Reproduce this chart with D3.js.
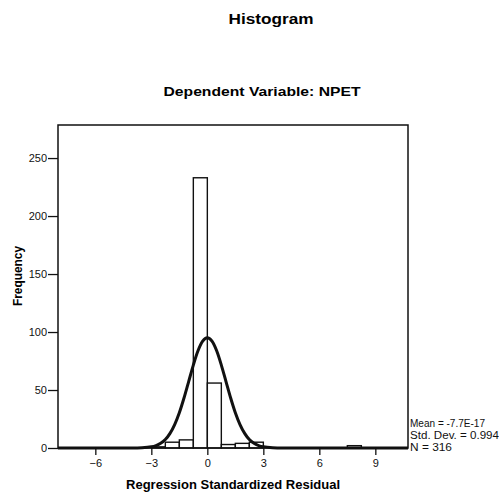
<!DOCTYPE html>
<html>
<head>
<meta charset="utf-8">
<script src="https://cdn.jsdelivr.net/npm/d3@7"></script>
<style>
  body { margin: 0; background: #fff; }
  svg { display: block; font-family: "Liberation Sans", Arial, sans-serif; }
</style>
</head>
<body>
<div id="chart"></div>
<script>
// histogram bins (lower / upper edge) and their counts
var binLo = [-3, -2.25, -1.5, -0.75, 0, 0.75, 1.5, 2.25, 7.5];
var binHi = [-2.25, -1.5, -0.75, 0, 0.75, 1.5, 2.25, 3, 8.25];
var counts = [1, 5, 7, 233, 56, 3, 4, 5, 2];

// normal curve
var curveX = [-8, -4, -3.5, -3, -2.75, -2.5, -2.25, -2, -1.75, -1.5, -1.25, -1, -0.75, -0.5, -0.25, 0,
              0.25, 0.5, 0.75, 1, 1.25, 1.5, 1.75, 2, 2.25, 2.5, 2.75, 3, 3.5, 4, 10.75];
var curveY = [0, 0, 0.2, 1, 2.1, 4, 7.3, 12.6, 20.2, 30.4, 43.1, 57.3, 71.5, 83.8, 92.1, 95.1,
              92.1, 83.8, 71.5, 57.3, 43.1, 30.4, 20.2, 12.6, 7.3, 4, 2.1, 1, 0.2, 0, 0];

var xTicks = [-6, -3, 0, 3, 6, 9];
var yTicks = [0, 50, 100, 150, 200, 250];
var statLines = ["Mean = -7.7E-17", "Std. Dev. = 0.994", "N = 316"];

var svgWidth = 499;
var svgHeight = 499;

var margin = { top: 125, right: 91, bottom: 51, left: 58 };
var width = svgWidth - margin.left - margin.right;
var height = svgHeight - margin.top - margin.bottom;

var svg = d3.select("#chart")
  .append("svg")
  .attr("width", svgWidth)
  .attr("height", svgHeight);

// titles (scanned output is a bit wide, so stretch to match)
svg.append("text")
  .attr("x", 271).attr("y", 24)
  .attr("text-anchor", "middle")
  .attr("font-size", "14px").attr("font-weight", "bold")
  .attr("textLength", 85).attr("lengthAdjust", "spacingAndGlyphs")
  .text("Histogram");

svg.append("text")
  .attr("x", 262).attr("y", 96)
  .attr("text-anchor", "middle")
  .attr("font-size", "13.5px").attr("font-weight", "bold")
  .attr("textLength", 197).attr("lengthAdjust", "spacingAndGlyphs")
  .text("Dependent Variable: NPET");

var chartGroup = svg.append("g")
  .attr("transform", `translate(${margin.left}, ${margin.top})`);

var x = d3.scaleLinear().domain([-8, 10.75]).range([0, width]);
var y = d3.scaleLinear().domain([0, 278.5]).range([height, 0]);

// bars
chartGroup.selectAll("rect.bar")
  .data(counts)
  .enter()
  .append("rect")
  .attr("class", "bar")
  .attr("x", (d, i) => x(binLo[i]))
  .attr("width", (d, i) => x(binHi[i]) - x(binLo[i]))
  .attr("y", d => y(d))
  .attr("height", d => y(0) - y(d))
  .attr("fill", "#fff")
  .attr("stroke", "#111")
  .attr("stroke-width", 1.4);

// normal curve
var pts = curveX.map((v, i) => [v, curveY[i]]);
var line = d3.line()
  .x(d => x(d[0]))
  .y(d => y(d[1]))
  .curve(d3.curveMonotoneX);

chartGroup.append("path")
  .datum(pts)
  .attr("d", line)
  .attr("fill", "none")
  .attr("stroke", "#111")
  .attr("stroke-width", 3);

// frame
chartGroup.append("rect")
  .attr("x", 0).attr("y", 0)
  .attr("width", width).attr("height", height)
  .attr("fill", "none")
  .attr("stroke", "#111")
  .attr("stroke-width", 1.5);

// axes
var bottomAxis = d3.axisBottom(x).tickValues(xTicks).tickSize(7).tickSizeOuter(0).tickPadding(4);
var leftAxis = d3.axisLeft(y).tickValues(yTicks).tickSize(10).tickSizeOuter(0).tickPadding(1);

var xAxis = chartGroup.append("g")
  .attr("transform", `translate(0, ${height})`)
  .call(bottomAxis);
var yAxis = chartGroup.append("g")
  .call(leftAxis);

[xAxis, yAxis].forEach(function(ax) {
  ax.select(".domain").remove();
  ax.selectAll("line").attr("stroke", "#111").attr("stroke-width", 1.3);
  ax.selectAll("text")
    .attr("fill", "#111")
    .attr("font-size", "11px")
    .attr("font-family", "Liberation Sans, Arial, sans-serif");
});

// axis titles
svg.append("text")
  .attr("transform", "rotate(-90)")
  .attr("x", -276).attr("y", 22)
  .attr("text-anchor", "middle")
  .attr("font-size", "13px").attr("font-weight", "bold")
  .attr("textLength", 60).attr("lengthAdjust", "spacingAndGlyphs")
  .text("Frequency");

svg.append("text")
  .attr("x", 233).attr("y", 489)
  .attr("text-anchor", "middle")
  .attr("font-size", "13.5px").attr("font-weight", "bold")
  .attr("textLength", 214).attr("lengthAdjust", "spacingAndGlyphs")
  .text("Regression Standardized Residual");

// stats box
var statWidths = [75, 89, 42];
svg.selectAll("text.stat")
  .data(statLines)
  .enter()
  .append("text")
  .attr("class", "stat")
  .attr("x", 410)
  .attr("y", (d, i) => 427 + i * 12)
  .attr("font-size", "10px")
  .attr("fill", "#111")
  .attr("textLength", (d, i) => statWidths[i])
  .attr("lengthAdjust", "spacingAndGlyphs")
  .text(d => d);
</script>
</body>
</html>
